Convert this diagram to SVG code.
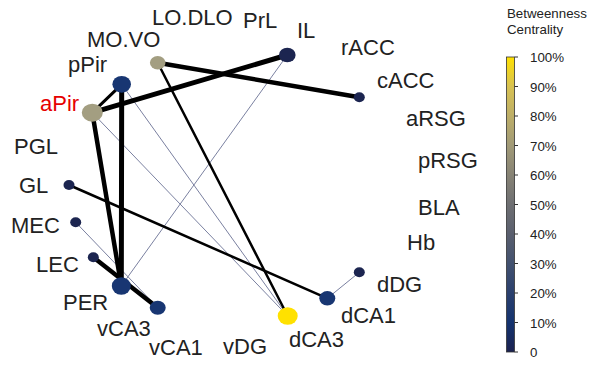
<svg xmlns="http://www.w3.org/2000/svg" width="595" height="365" viewBox="0 0 595 365">
<style>
.lbl{font-family:"Liberation Sans",Arial,sans-serif;font-size:22px;fill:#222}
.red{fill:#e60000}
.tk{font-family:"Liberation Sans",Arial,sans-serif;font-size:13.3px;fill:#222}
.e{stroke:#000;fill:none;stroke-linecap:round}
.thin{stroke:#7a80a0;stroke-width:1;fill:none}
.navy{fill:#1c2550}
.blue{fill:#183672}
.tan{fill:#a39e81}
.yel{fill:#ffe100}
</style>
<defs>
<linearGradient id="cb" x1="0" y1="1" x2="0" y2="0">
<stop offset="0" stop-color="#1c2250"/>
<stop offset="0.1" stop-color="#14336f"/>
<stop offset="0.2" stop-color="#2b406e"/>
<stop offset="0.3" stop-color="#42516f"/>
<stop offset="0.4" stop-color="#5a5f6e"/>
<stop offset="0.5" stop-color="#6e6f72"/>
<stop offset="0.6" stop-color="#878375"/>
<stop offset="0.7" stop-color="#a19a77"/>
<stop offset="0.8" stop-color="#bdae68"/>
<stop offset="0.9" stop-color="#d8c252"/>
<stop offset="1" stop-color="#ffe100"/>
</linearGradient>
</defs>
<rect width="595" height="365" fill="#fff"/>
<g id="connectors">
<line class="thin" x1="92.3" y1="112.7" x2="287.7" y2="316"/>
<line class="thin" x1="121.7" y1="84.3" x2="287.7" y2="316"/>
<line class="thin" x1="287.3" y1="55" x2="121.3" y2="286"/>
<line class="thin" x1="75.7" y1="222.3" x2="157.7" y2="307.7"/>
<line class="thin" x1="359.3" y1="272.3" x2="327.3" y2="298.3"/>
<line class="e" stroke-width="5" x1="92.3" y1="112.7" x2="287.3" y2="55"/>
<line class="e" stroke-width="4.5" x1="157.7" y1="62.7" x2="359.3" y2="97.3"/>
<line class="e" stroke-width="2.5" x1="157.7" y1="62.7" x2="287.7" y2="316"/>
<line class="e" stroke-width="3" x1="92.3" y1="112.7" x2="121.7" y2="84.3"/>
<line class="e" stroke-width="5" x1="121.7" y1="84.3" x2="121.3" y2="286"/>
<line class="e" stroke-width="4.5" x1="92.3" y1="112.7" x2="121.3" y2="286"/>
<line class="e" stroke-width="4.5" x1="93.3" y1="257.3" x2="157.7" y2="307.7"/>
<line class="e" stroke-width="2.5" x1="69" y1="185" x2="327.3" y2="298.3"/>
</g>
<g id="IL"><ellipse class="navy" cx="287.3" cy="55" rx="8.3" ry="7.3"/><text class="lbl" x="297" y="38">IL</text></g>
<g id="MO.VO"><ellipse class="tan" cx="157.7" cy="62.7" rx="7.8" ry="6.8"/><text class="lbl" x="87" y="47">MO.VO</text></g>
<g id="pPir"><ellipse class="blue" cx="121.7" cy="84.3" rx="9.3" ry="8.4"/><text class="lbl" x="68" y="72">pPir</text></g>
<g id="aPir"><ellipse class="tan" cx="92.3" cy="112.7" rx="10.5" ry="9"/><text class="lbl red" x="40" y="111">aPir</text></g>
<g id="cACC"><ellipse class="navy" cx="359.3" cy="97.3" rx="5.5" ry="5"/><text class="lbl" x="377" y="88">cACC</text></g>
<g id="GL"><ellipse class="navy" cx="69" cy="185" rx="5.5" ry="5"/><text class="lbl" x="19" y="193">GL</text></g>
<g id="MEC"><ellipse class="navy" cx="75.7" cy="222.3" rx="5.5" ry="5"/><text class="lbl" x="11" y="233">MEC</text></g>
<g id="LEC"><ellipse class="navy" cx="93.3" cy="257.3" rx="5.5" ry="5"/><text class="lbl" x="36" y="272">LEC</text></g>
<g id="PER"><ellipse class="blue" cx="121.3" cy="286" rx="9.5" ry="8.7"/><text class="lbl" x="63" y="310">PER</text></g>
<g id="vCA3"><ellipse class="blue" cx="157.7" cy="307.7" rx="8" ry="7"/><text class="lbl" x="97" y="336">vCA3</text></g>
<g id="dCA3"><ellipse class="yel" cx="287.7" cy="316" rx="10" ry="8.7"/><text class="lbl" x="289" y="347">dCA3</text></g>
<g id="dCA1"><ellipse class="blue" cx="327.3" cy="298.3" rx="8" ry="7.2"/><text class="lbl" x="341" y="323">dCA1</text></g>
<g id="dDG"><ellipse class="navy" cx="359.3" cy="272.3" rx="5.5" ry="5"/><text class="lbl" x="377" y="292">dDG</text></g>
<g id="LO.DLO"><text class="lbl" x="152" y="25">LO.DLO</text></g>
<g id="PrL"><text class="lbl" x="243" y="28">PrL</text></g>
<g id="rACC"><text class="lbl" x="341" y="55">rACC</text></g>
<g id="aRSG"><text class="lbl" x="406" y="126">aRSG</text></g>
<g id="PGL"><text class="lbl" x="14" y="154">PGL</text></g>
<g id="pRSG"><text class="lbl" x="418" y="168">pRSG</text></g>
<g id="BLA"><text class="lbl" x="418" y="215">BLA</text></g>
<g id="Hb"><text class="lbl" x="407" y="250">Hb</text></g>
<g id="vDG"><text class="lbl" x="223" y="354">vDG</text></g>
<g id="vCA1"><text class="lbl" x="149" y="355">vCA1</text></g>
<g id="colorbar">
<text class="tk" x="507" y="18">Betweenness</text>
<text class="tk" x="507" y="34">Centrality</text>
<rect x="506.5" y="57" width="8" height="295" fill="url(#cb)" stroke="#333" stroke-width="0.8"/>
<g stroke="#333" stroke-width="1">
<line x1="514.5" y1="57" x2="518" y2="57"/>
<line x1="514.5" y1="86.5" x2="518" y2="86.5"/>
<line x1="514.5" y1="116" x2="518" y2="116"/>
<line x1="514.5" y1="145.5" x2="518" y2="145.5"/>
<line x1="514.5" y1="175" x2="518" y2="175"/>
<line x1="514.5" y1="204.5" x2="518" y2="204.5"/>
<line x1="514.5" y1="234" x2="518" y2="234"/>
<line x1="514.5" y1="263.5" x2="518" y2="263.5"/>
<line x1="514.5" y1="293" x2="518" y2="293"/>
<line x1="514.5" y1="322.5" x2="518" y2="322.5"/>
<line x1="514.5" y1="352" x2="518" y2="352"/>
</g>
<text class="tk" x="530" y="62">100%</text>
<text class="tk" x="530" y="91.5">90%</text>
<text class="tk" x="530" y="121">80%</text>
<text class="tk" x="530" y="150.5">70%</text>
<text class="tk" x="530" y="180">60%</text>
<text class="tk" x="530" y="209.5">50%</text>
<text class="tk" x="530" y="239">40%</text>
<text class="tk" x="530" y="268.5">30%</text>
<text class="tk" x="530" y="298">20%</text>
<text class="tk" x="530" y="327.5">10%</text>
<text class="tk" x="530" y="357">0</text>
</g>
</svg>
